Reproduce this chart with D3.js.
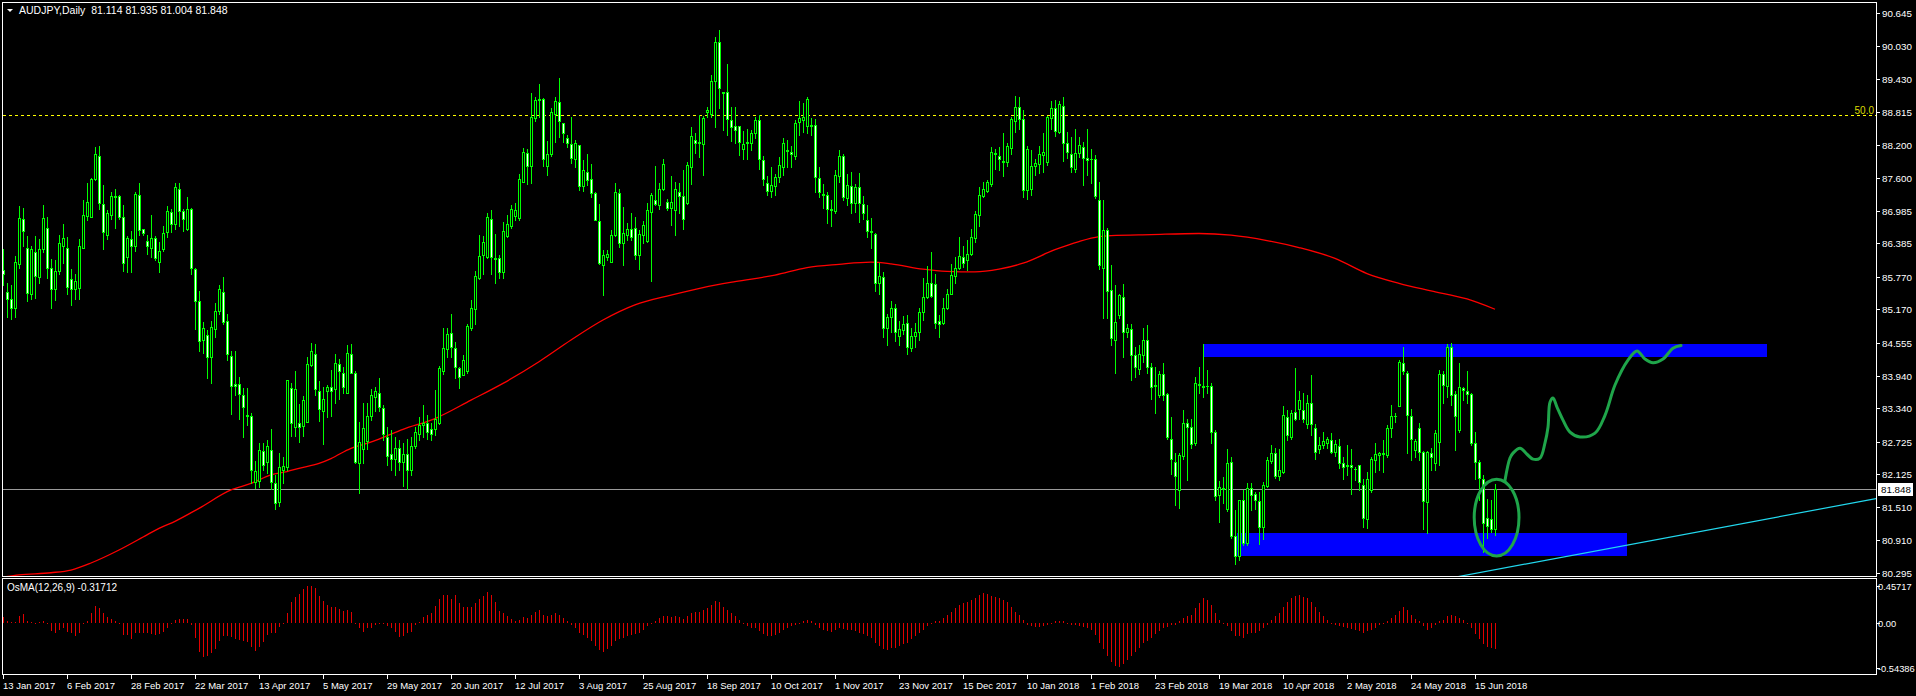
<!DOCTYPE html>
<html><head><meta charset="utf-8">
<script src="https://cdn.jsdelivr.net/npm/d3@7"></script>
<style>html,body{margin:0;padding:0;background:#000;overflow:hidden}text{font-family:"Liberation Sans",Arial,sans-serif}</style>
</head><body><svg id="c" width="1916" height="696"></svg>
<script>
// ---- data (bar index 0 = 13 Jan 2017, daily bars) ----
const opens=[85.90,85.49,85.35,85.20,86.00,86.83,86.31,85.46,86.23,85.76,86.28,86.68,85.93,85.54,85.88,86.34,86.31,85.72,85.55,85.57,86.31,86.90,86.88,87.57,88.00,87.11,86.55,86.91,87.26,87.26,86.87,86.13,86.46,86.33,87.29,86.65,86.44,86.31,86.48,86.05,86.28,86.60,86.97,86.74,87.39,86.99,86.65,87.02,85.91,85.33,84.61,84.69,84.28,84.80,85.14,85.49,84.95,84.31,83.78,83.78,83.58,83.21,83.20,81.97,81.99,82.55,82.34,82.57,81.95,81.60,82.19,82.26,83.71,82.99,83.06,83.01,83.09,84.14,84.35,83.66,83.28,83.65,83.73,83.69,84.15,84.00,83.63,84.34,84.00,82.32,82.59,82.73,83.20,83.55,83.63,83.34,82.81,82.50,82.40,82.60,82.35,82.50,82.20,82.65,82.87,83.03,83.06,82.95,82.95,83.07,84.03,84.43,84.73,84.46,84.08,83.95,84.02,84.82,85.17,85.74,86.17,86.13,86.83,86.12,86.11,85.86,86.52,86.70,86.90,86.86,87.53,88.05,87.82,88.70,89.04,89.05,87.82,88.03,88.78,89.00,88.61,88.33,88.22,87.94,88.20,87.45,87.70,87.58,87.31,86.80,85.98,86.14,86.05,86.54,87.31,86.39,86.55,86.65,86.68,86.17,86.55,86.44,86.97,87.19,87.10,87.39,87.16,87.05,87.00,87.34,87.26,87.13,87.80,88.30,88.24,88.22,88.82,88.77,89.38,90.10,89.18,89.19,88.67,88.55,88.55,88.14,88.26,88.24,88.42,88.67,87.93,87.50,87.36,87.45,87.61,87.79,88.11,88.07,88.01,88.63,88.67,88.55,88.58,88.57,87.60,87.30,87.29,87.02,86.99,87.64,88.00,87.22,87.45,87.13,87.42,87.11,86.82,86.62,86.56,85.65,85.76,84.82,85.02,85.19,84.68,84.79,84.91,84.45,84.68,84.74,85.12,85.40,85.65,85.64,84.95,84.91,85.19,85.46,85.78,85.93,86.14,86.08,86.19,86.48,86.91,87.26,87.35,87.49,88.05,88.00,87.91,87.90,88.15,88.64,88.90,88.68,87.38,87.39,87.82,87.86,88.02,87.90,88.70,88.88,88.44,88.93,88.24,88.03,87.76,88.06,88.16,87.97,87.95,87.95,87.19,85.93,86.63,85.52,84.60,85.06,85.39,84.74,84.80,84.32,84.06,84.33,84.60,84.10,83.77,83.58,83.97,83.60,82.78,82.35,81.83,82.46,83.07,82.99,82.69,83.77,83.76,83.75,83.76,82.91,81.74,81.87,81.47,82.35,80.98,80.60,81.64,80.85,81.86,81.75,81.63,81.14,81.91,82.37,82.52,82.09,82.17,83.17,82.80,83.27,83.32,83.31,83.05,83.44,82.97,82.58,82.66,82.70,82.76,82.54,82.64,82.32,82.29,82.29,82.22,82.29,81.92,81.30,81.82,82.38,82.47,82.51,82.48,82.97,83.19,83.38,84.17,84.00,83.20,82.57,82.97,82.54,81.60,82.52,82.32,82.72,83.98,83.75,84.47,83.60,82.94,83.72,83.66,83.60,82.69,82.35,82.03,81.31,81.29,81.114];
const highs=[86.28,85.66,85.61,86.15,87.08,87.05,86.52,86.34,86.52,86.46,87.09,86.87,86.09,86.08,86.54,86.74,86.50,85.91,85.83,86.46,87.19,87.50,87.59,88.17,88.19,87.47,87.00,87.33,87.40,87.29,87.09,86.52,86.62,87.34,87.50,86.66,86.54,86.92,86.52,86.42,86.70,87.07,87.02,87.50,87.50,87.02,87.24,87.05,85.94,85.51,84.94,84.79,84.96,85.29,85.61,85.76,85.09,84.39,84.40,83.91,83.71,83.71,83.25,82.37,82.69,82.69,82.75,82.95,82.11,82.51,82.43,83.87,83.80,84.03,83.42,83.57,84.28,84.54,84.52,83.84,83.74,83.77,84.05,84.34,84.25,84.11,84.51,84.52,84.03,83.09,83.44,83.43,83.69,83.74,83.90,83.40,83.00,82.93,82.80,82.75,82.70,82.77,82.80,83.00,83.18,83.40,83.21,83.06,83.68,84.12,84.82,84.82,85.09,84.56,84.11,84.33,84.90,85.34,85.88,86.54,86.52,86.95,87.00,86.56,86.17,86.79,86.92,87.10,87.14,87.67,88.15,88.14,89.16,89.09,89.33,89.07,88.28,88.88,89.09,89.44,88.62,88.39,88.72,88.30,88.20,87.93,88.03,87.85,87.34,87.11,86.26,86.26,86.63,87.50,87.40,87.06,86.77,86.95,86.88,86.63,86.80,87.13,87.31,87.82,87.51,87.94,87.20,87.63,87.52,87.51,87.74,87.90,88.54,88.42,88.76,88.75,88.91,89.50,90.21,90.33,89.19,89.70,88.91,88.90,88.55,88.46,88.51,88.49,88.73,88.76,88.00,87.63,87.80,87.67,87.99,88.33,88.30,88.19,88.67,89.02,88.99,89.09,88.70,88.68,87.79,87.48,87.34,87.18,87.74,88.11,88.04,87.67,87.71,87.48,87.69,87.26,87.10,86.86,86.58,86.02,85.86,85.08,85.33,85.27,84.95,85.04,85.06,84.82,84.91,85.20,85.74,85.97,86.22,85.83,85.06,85.37,85.54,86.01,86.13,86.51,86.33,86.45,86.65,86.99,87.42,87.53,87.56,88.16,88.13,88.16,88.42,88.25,88.73,89.11,89.09,88.86,88.19,88.11,87.94,88.19,88.42,88.74,89.01,89.04,89.02,89.09,88.45,88.36,88.51,88.36,88.27,88.51,88.14,88.02,87.53,87.19,86.67,85.99,85.62,85.45,85.63,84.90,84.90,84.48,84.51,84.82,84.88,84.18,84.11,84.03,84.17,83.63,83.18,82.51,82.51,83.31,83.15,83.15,83.92,84.11,84.53,84.05,83.80,82.94,82.00,82.07,82.58,82.44,81.46,81.65,81.83,81.95,81.95,81.80,81.80,81.98,82.43,82.66,82.60,82.58,83.38,83.30,83.31,84.08,83.66,83.62,83.58,83.95,83.05,82.81,82.91,82.81,82.89,82.75,82.78,82.43,82.66,82.58,82.26,82.29,82.03,82.17,82.43,82.69,82.54,82.75,83.03,83.40,83.26,84.24,84.48,84.03,83.33,82.78,83.06,82.55,82.55,82.60,82.93,84.05,84.03,84.53,84.55,83.66,84.17,83.74,84.03,83.63,82.91,82.38,82.10,81.67,81.64,81.935];
const lows=[85.62,85.03,84.99,85.03,85.94,86.33,85.33,85.36,85.38,85.65,86.23,85.74,85.20,85.34,85.83,86.02,85.46,85.24,85.36,85.36,86.31,86.82,86.87,87.56,87.02,86.29,86.46,86.83,86.68,86.83,85.88,85.85,85.85,86.25,86.54,86.55,86.19,86.14,86.08,85.85,86.25,86.50,86.60,86.66,86.70,86.62,86.63,85.82,84.81,84.40,84.36,83.89,83.81,84.66,85.09,84.90,84.23,83.23,83.59,83.15,82.80,83.03,81.95,81.86,81.89,82.20,82.15,81.85,81.48,81.53,81.96,82.20,82.83,82.83,82.72,82.83,83.08,84.12,83.59,83.11,82.67,83.17,83.20,83.44,83.52,83.62,83.62,83.99,82.32,81.77,82.33,82.58,83.12,83.28,83.28,82.75,82.30,82.20,82.10,82.20,81.90,81.85,82.10,82.60,82.75,82.81,82.78,82.75,82.84,83.05,83.98,84.28,84.28,83.89,83.72,83.95,84.00,84.79,84.90,85.72,85.83,86.11,85.83,85.66,85.74,85.74,86.51,86.68,86.82,86.82,87.52,87.48,87.50,88.64,88.73,87.82,87.65,88.00,88.27,88.35,88.27,88.17,87.87,87.80,87.37,87.35,87.47,87.25,86.81,86.00,85.44,86.08,86.04,86.52,86.32,85.99,86.45,86.45,86.09,85.92,86.39,86.41,85.70,87.10,87.03,87.37,87.00,86.73,86.54,86.94,86.66,87.11,87.48,88.05,87.99,87.65,88.73,88.73,88.54,88.88,88.48,88.39,88.28,88.25,88.02,87.94,87.94,88.11,88.33,87.77,87.47,87.28,87.25,87.28,87.53,87.65,87.79,87.79,87.95,88.39,88.45,88.43,88.39,87.34,87.25,87.05,86.77,86.70,86.94,87.53,87.19,87.10,86.94,86.97,86.79,86.83,86.51,86.31,85.50,85.46,84.65,84.50,84.74,84.59,84.50,84.72,84.34,84.39,84.47,84.61,84.97,85.37,85.39,84.82,84.66,84.90,85.17,85.45,85.66,85.91,85.95,85.90,86.17,86.42,86.71,87.25,87.33,87.44,87.76,87.74,87.63,87.82,88.04,88.45,88.51,87.24,87.20,87.28,87.65,87.68,87.71,87.83,88.51,88.37,88.42,87.91,87.96,87.71,87.71,87.99,87.47,87.65,87.50,87.22,85.91,85.00,85.00,84.51,84.00,85.00,84.28,84.66,83.87,83.92,83.98,84.20,84.00,83.52,83.26,83.54,83.50,82.77,82.12,81.55,81.49,82.41,82.01,82.60,82.66,83.63,83.54,83.63,82.69,81.64,81.24,81.58,81.45,80.95,80.47,80.54,80.81,80.81,81.46,81.47,80.83,80.92,81.89,82.32,82.06,82.01,82.14,82.76,82.77,83.12,83.15,83.09,82.97,82.84,82.41,82.51,82.60,82.60,82.51,82.46,82.23,82.03,82.11,81.75,82.01,81.82,81.14,81.12,81.80,82.17,82.20,82.17,82.43,82.81,83.09,83.38,83.97,82.51,82.38,82.44,82.38,81.10,81.03,82.20,82.19,82.29,83.43,83.55,83.40,82.57,82.91,83.49,83.44,82.66,82.04,81.64,80.68,80.94,81.05,81.004];
const closes=[85.82,85.36,85.20,86.04,86.85,86.62,85.47,86.28,85.79,86.28,86.85,85.94,85.54,85.88,86.39,86.48,85.59,85.55,85.70,86.34,86.92,87.15,87.57,88.03,87.14,86.59,86.94,87.26,87.25,86.88,86.02,86.48,86.33,87.30,86.63,86.57,86.33,86.48,86.11,86.25,86.57,86.99,86.74,87.42,86.99,86.83,87.02,85.93,85.33,84.59,84.82,84.28,84.85,85.14,85.54,84.94,84.34,83.76,83.76,83.61,83.36,83.20,82.19,82.18,82.57,82.30,82.65,81.97,81.59,82.26,82.27,83.86,83.06,83.69,82.99,83.49,84.15,84.40,83.69,83.32,83.52,83.73,83.65,84.17,84.02,83.73,84.37,84.00,82.34,82.71,82.97,83.20,83.59,83.65,83.37,82.87,82.45,82.40,82.60,82.35,82.50,82.20,82.65,82.90,83.03,83.07,82.91,82.87,83.15,84.08,84.45,84.72,84.48,84.11,83.92,84.24,84.86,85.19,85.79,86.16,86.42,86.87,86.13,86.10,85.86,86.61,86.74,87.03,87.00,87.57,88.07,87.82,88.72,89.04,89.06,87.94,88.03,88.81,89.01,88.65,88.42,88.24,87.96,88.24,87.45,87.75,87.56,87.31,86.81,86.02,86.17,86.19,86.55,87.33,86.39,86.57,86.66,86.50,86.17,86.56,86.72,87.01,87.29,87.12,87.39,87.85,87.05,87.15,87.40,87.27,86.84,87.83,88.37,88.24,88.26,88.70,88.85,89.38,90.10,89.25,89.17,88.68,88.53,88.49,88.27,88.23,88.25,88.42,88.67,87.94,87.57,87.36,87.47,87.61,87.83,88.24,88.10,88.03,88.62,88.70,88.72,89.05,88.55,87.62,87.34,87.28,87.02,87.00,87.65,88.00,87.25,87.47,87.14,87.42,87.14,86.94,86.62,86.59,85.65,85.78,84.83,85.02,85.20,84.74,84.80,84.89,84.47,84.68,84.75,85.12,85.39,85.65,85.41,84.92,84.90,85.20,85.46,85.81,85.94,86.15,86.03,86.20,86.50,86.93,87.28,87.40,87.52,88.07,88.04,87.94,87.90,88.18,88.68,88.90,88.68,87.38,88.14,87.82,87.88,88.03,88.08,88.72,88.88,88.47,88.96,88.24,88.08,87.79,88.06,88.21,87.96,87.92,87.94,87.26,85.99,86.63,85.51,84.63,84.94,85.43,84.74,84.82,84.32,84.11,84.34,84.61,84.10,83.74,83.75,83.97,83.59,82.80,82.40,82.09,82.47,83.07,83.00,82.68,83.80,83.78,83.74,83.76,82.91,81.72,81.88,81.84,82.33,80.97,80.60,81.64,80.85,81.86,81.74,81.64,81.14,81.92,82.38,82.52,82.09,82.19,83.22,82.84,83.26,83.15,83.49,83.14,83.44,83.05,82.54,82.66,82.73,82.77,82.54,82.68,82.32,82.26,82.27,82.25,82.21,81.98,81.32,82.04,82.41,82.50,82.51,82.49,82.97,83.20,83.20,84.20,84.02,83.22,82.78,82.74,82.54,81.63,82.54,82.43,82.88,83.98,83.77,84.48,83.58,83.20,83.74,83.67,83.60,82.69,82.35,82.05,81.22,81.16,81.11,81.848];
const osma=[0.077,0.03,0.015,0.01,0.085,0.11,0.024,0.016,0.004,0.008,0.024,-0.016,-0.098,-0.118,-0.085,-0.065,-0.106,-0.126,-0.154,-0.118,-0.004,0.028,0.118,0.211,0.18,0.118,0.073,0.053,0.028,0.004,-0.146,-0.146,-0.195,-0.118,-0.126,-0.126,-0.126,-0.138,-0.146,-0.138,-0.114,-0.061,-0.012,0.037,0.045,0.045,0.049,-0.024,-0.187,-0.35,-0.419,-0.403,-0.362,-0.317,-0.215,-0.154,-0.154,-0.167,-0.195,-0.207,-0.22,-0.228,-0.297,-0.337,-0.297,-0.228,-0.146,-0.126,-0.126,-0.045,-0.008,0.126,0.252,0.321,0.354,0.41,0.455,0.457,0.423,0.329,0.268,0.224,0.199,0.199,0.171,0.146,0.159,0.134,0.004,-0.065,-0.106,-0.065,-0.065,-0.024,-0.004,-0.012,-0.037,-0.065,-0.106,-0.167,-0.159,-0.126,-0.106,-0.024,0.016,0.077,0.098,0.118,0.207,0.289,0.341,0.341,0.289,0.341,0.24,0.191,0.191,0.199,0.24,0.289,0.329,0.374,0.341,0.252,0.15,0.12,0.08,0.05,0.03,0.04,0.07,0.06,0.10,0.14,0.16,0.10,0.08,0.10,0.12,0.10,0.06,0.02,-0.02,-0.06,-0.12,-0.15,-0.18,-0.22,-0.28,-0.33,-0.35,-0.32,-0.28,-0.22,-0.2,-0.18,-0.16,-0.15,-0.14,-0.12,-0.08,-0.04,0.0,0.03,0.06,0.09,0.08,0.07,0.08,0.07,0.05,0.08,0.12,0.13,0.14,0.16,0.18,0.22,0.27,0.25,0.2,0.16,0.12,0.08,0.04,0.0,-0.04,-0.06,-0.06,-0.1,-0.14,-0.16,-0.16,-0.15,-0.12,-0.08,-0.06,-0.04,-0.02,0.0,0.02,0.04,0.03,-0.03,-0.06,-0.08,-0.1,-0.11,-0.09,-0.06,-0.07,-0.08,-0.09,-0.1,-0.12,-0.14,-0.16,-0.18,-0.24,-0.28,-0.32,-0.33,-0.31,-0.3,-0.28,-0.26,-0.24,-0.2,-0.16,-0.12,-0.08,-0.04,0.0,0.02,0.03,0.06,0.1,0.14,0.18,0.22,0.24,0.26,0.28,0.3,0.34,0.36,0.35,0.33,0.32,0.3,0.28,0.25,0.2,0.14,0.1,0.04,-0.02,-0.04,-0.05,-0.05,-0.04,-0.02,0.0,0.02,0.03,0.02,0.0,-0.02,-0.03,-0.04,-0.05,-0.06,-0.08,-0.15,-0.25,-0.32,-0.4,-0.47,-0.52,-0.54,-0.5,-0.45,-0.4,-0.35,-0.3,-0.25,-0.22,-0.18,-0.14,-0.1,-0.06,-0.05,-0.03,-0.02,0.02,0.06,0.08,0.1,0.18,0.24,0.3,0.28,0.22,0.12,0.04,0.0,-0.04,-0.1,-0.16,-0.16,-0.18,-0.14,-0.12,-0.12,-0.1,-0.06,-0.02,0.04,0.08,0.12,0.2,0.26,0.3,0.33,0.34,0.32,0.3,0.25,0.2,0.14,0.08,0.04,0.0,-0.02,-0.04,-0.05,-0.06,-0.07,-0.08,-0.1,-0.12,-0.1,-0.08,-0.06,-0.03,0.0,0.03,0.06,0.1,0.15,0.2,0.16,0.1,0.05,0.02,-0.04,-0.08,-0.06,-0.03,0.02,0.04,0.08,0.1,0.08,0.06,0.04,0.0,-0.06,-0.14,-0.2,-0.26,-0.29,-0.3,-0.317];
const maIdx=[0,4,12,17,22,29,36,39,43,49,57,62,67,71,74,79,82,87,91,94,100,108,117,125,134,142,150,158,167,175,183,193,201,209,217,222,230,236,243,249,255,263,269,274,277,287,299,307,316,324,333,341,349,357,366,373];
const maVal=[80.22,80.26,80.30,80.35,80.48,80.72,81.00,81.12,81.25,81.49,81.83,81.95,82.11,82.17,82.23,82.32,82.41,82.60,82.69,82.77,82.95,83.15,83.49,83.80,84.20,84.60,84.97,85.25,85.43,85.57,85.68,85.80,85.94,86.00,86.04,86.01,85.91,85.87,85.86,85.91,86.02,86.27,86.42,86.51,86.53,86.55,86.57,86.54,86.44,86.31,86.11,85.83,85.65,85.51,85.36,85.17];
const dateLabels=["13 Jan 2017","6 Feb 2017","28 Feb 2017","22 Mar 2017","13 Apr 2017","5 May 2017","29 May 2017","20 Jun 2017","12 Jul 2017","3 Aug 2017","25 Aug 2017","18 Sep 2017","10 Oct 2017","1 Nov 2017","23 Nov 2017","15 Dec 2017","10 Jan 2018","1 Feb 2018","23 Feb 2018","19 Mar 2018","10 Apr 2018","2 May 2018","24 May 2018","15 Jun 2018"];
const dateIdx=dateLabels.map((d,k)=>k*16);
const priceTicks=[90.645,90.030,89.430,88.815,88.200,87.600,86.985,86.385,85.770,85.170,84.555,83.940,83.340,82.725,82.125,81.510,80.910,80.295];
const osmaTicks=[0.45717,0,-0.54386];
const osmaTickLabels=["0.45717","0.00","-0.54386"];
const fiboLevel=88.76, fiboText="50.0";
const lastPrice=81.848;
const rectStart=[300,308.5], rectEnd=[441,406], rectHigh=[84.53,81.03], rectLow=[84.29,80.61];
const trendIdx=[340,468.25], trendVal=[79.90,81.67];
const curveIdx=[375.5,376.75,377.5,379.25,381,382.5,384.25,385.5,386.25,386.75,387.5,388.5,390,391.75,394.25,398,400.5,403,406.25,408.5,410.5,412.5,415,417.5,419.5];
const curveVal=[82.01,82.42,82.51,82.60,82.49,82.40,82.42,82.70,82.99,83.45,83.53,83.36,83.12,82.90,82.81,82.88,83.21,83.77,84.23,84.40,84.25,84.18,84.25,84.45,84.50];
const ellipseIdx=373.4, ellipseVal=81.32, ellipseHalfBars=5.6, ellipseHalfPrice=0.71;
const title="AUDJPY,Daily  81.114 81.935 81.004 81.848";
const osmaTitle="OsMA(12,26,9) -0.31712";

// ---- scales ----
const x=d3.scaleLinear().domain([0,468.25]).range([3,1876]);
const y=d3.scaleLinear().domain([80.295,90.645]).range([573,13]);
const yo=d3.scaleLinear().domain([-0.54386,0.45717]).range([667.6,585.5]);
const svg=d3.select("#c");
svg.append("rect").attr("width",1916).attr("height",696).attr("fill","#000");
svg.append("clipPath").attr("id","mc").append("rect").attr("x",3).attr("y",3).attr("width",1873).attr("height",573);
const main=svg.append("g").attr("clip-path","url(#mc)");
const px=i=>Math.round(x(i));

// rectangles
main.selectAll(".br").data(rectStart).enter().append("rect")
  .attr("x",(d,k)=>px(d)).attr("y",(d,k)=>Math.round(y(rectHigh[k])))
  .attr("width",(d,k)=>px(rectEnd[k])-px(d)).attr("height",(d,k)=>Math.round(y(rectLow[k]))-Math.round(y(rectHigh[k])))
  .attr("fill","#0000ff");
// fibo dashed
main.append("line").attr("x1",3).attr("x2",1876).attr("y1",Math.round(y(fiboLevel))+0.5).attr("y2",Math.round(y(fiboLevel))+0.5)
  .attr("stroke","#ffff00").attr("stroke-dasharray","3,3").attr("stroke-width",1);
svg.append("text").attr("x",1874).attr("y",Math.round(y(fiboLevel))-1).attr("text-anchor","end").attr("fill","#d8d800").attr("font-size","10px").text(fiboText);
// price line
main.append("line").attr("x1",3).attr("x2",1876).attr("y1",Math.round(y(lastPrice))+0.5).attr("y2",Math.round(y(lastPrice))+0.5)
  .attr("stroke","#9a9a9a").attr("stroke-width",1);
// trend line
main.append("line").attr("x1",x(trendIdx[0])).attr("y1",y(trendVal[0])).attr("x2",x(trendIdx[1])).attr("y2",y(trendVal[1]))
  .attr("stroke","#22d8ee").attr("stroke-width",1.2);
// MA
main.append("path").datum(maIdx.map((d,k)=>[d,maVal[k]]))
  .attr("d",d3.line().x(d=>x(d[0])).y(d=>y(d[1])).curve(d3.curveMonotoneX))
  .attr("fill","none").attr("stroke","#ff0000").attr("stroke-width",1.3);
// candles
const cg=main.append("g").attr("shape-rendering","crispEdges");
opens.forEach((o,i)=>{
  const cx=px(i), c=closes[i];
  const yh=Math.round(y(highs[i])), yl=Math.round(y(lows[i]));
  cg.append("rect").attr("x",cx).attr("y",yh).attr("width",1).attr("height",Math.max(1,yl-yh+1)).attr("fill","#00ff00");
  const t=Math.round(y(Math.max(o,c))), b=Math.round(y(Math.min(o,c)));
  const h=Math.max(1,b-t+1);
  cg.append("rect").attr("x",cx-1).attr("y",t).attr("width",3).attr("height",h).attr("fill","#00ff00");
  if(h>=3) cg.append("rect").attr("x",cx).attr("y",t+1).attr("width",1).attr("height",h-2).attr("fill",c>o?"#000000":"#ffffff");
});
// hand-drawn curve and ellipse
main.append("path").datum(curveIdx.map((d,k)=>[d,curveVal[k]]))
  .attr("d",d3.line().x(d=>x(d[0])).y(d=>y(d[1])).curve(d3.curveCatmullRom))
  .attr("fill","none").attr("stroke","#1fa54a").attr("stroke-width",3).attr("stroke-linecap","round");
main.append("ellipse").attr("cx",x(ellipseIdx)).attr("cy",y(ellipseVal))
  .attr("rx",x(ellipseIdx+ellipseHalfBars)-x(ellipseIdx)).attr("ry",y(ellipseVal-ellipseHalfPrice)-y(ellipseVal))
  .attr("fill","none").attr("stroke","#1fa54a").attr("stroke-width",3);

// OsMA histogram
const og=svg.append("g").attr("shape-rendering","crispEdges");
osma.forEach((v,i)=>{
  const y0=Math.round(yo(0)), y1=Math.round(yo(v));
  og.append("rect").attr("x",px(i)).attr("y",Math.min(y0,y1)).attr("width",1).attr("height",Math.max(1,Math.abs(y1-y0))).attr("fill","#e00000");
});

// frames
const fr=svg.append("g").attr("fill","none").attr("stroke","#fff").attr("stroke-width",1).attr("shape-rendering","crispEdges");
fr.append("rect").attr("x",2.5).attr("y",2.5).attr("width",1874).attr("height",574);
fr.append("rect").attr("x",2.5).attr("y",578.5).attr("width",1874).attr("height",96);

// right price axis
const ax=svg.append("g").attr("font-size","9.8px").attr("fill","#fff");
priceTicks.forEach(p=>{
  const yy=Math.round(y(p));
  svg.append("line").attr("x1",1877).attr("x2",1880).attr("y1",yy+0.5).attr("y2",yy+0.5).attr("stroke","#fff");
  ax.append("text").attr("x",1882).attr("y",yy+3.5).text(p.toFixed(3));
});
// last price tag
const ly=Math.round(y(lastPrice));
svg.append("rect").attr("x",1878).attr("y",ly-6).attr("width",35).attr("height",13).attr("fill","#fff");
svg.append("text").attr("x",1881).attr("y",ly+4).attr("font-size","9.8px").attr("fill","#000").text(lastPrice.toFixed(3));
// osma axis
const oax=svg.append("g").attr("font-size","9.3px").attr("fill","#fff");
osmaTicks.forEach((v,k)=>{
  const yy=Math.round(yo(v));
  svg.append("line").attr("x1",1877).attr("x2",1880).attr("y1",yy+0.5).attr("y2",yy+0.5).attr("stroke","#fff");
  oax.append("text").attr("x",1878).attr("y",yy+3.5).text(osmaTickLabels[k]);
});
// date axis
const dx=svg.append("g").attr("font-size","9.5px").attr("fill","#fff");
dateIdx.forEach((d,k)=>{
  const xx=px(d);
  svg.append("line").attr("x1",xx+0.5).attr("x2",xx+0.5).attr("y1",675).attr("y2",679).attr("stroke","#fff");
  dx.append("text").attr("x",xx).attr("y",689).text(dateLabels[k]);
});
// titles
svg.append("path").attr("d","M7,9 L13,9 L10,12 Z").attr("fill","#fff");
svg.append("text").attr("x",19).attr("y",14).attr("font-size","10.5px").attr("fill","#fff").attr("xml:space","preserve").style("white-space","pre").text(title);
svg.append("text").attr("x",7).attr("y",591).attr("font-size","10px").attr("fill","#fff").text(osmaTitle);
</script></body></html>
